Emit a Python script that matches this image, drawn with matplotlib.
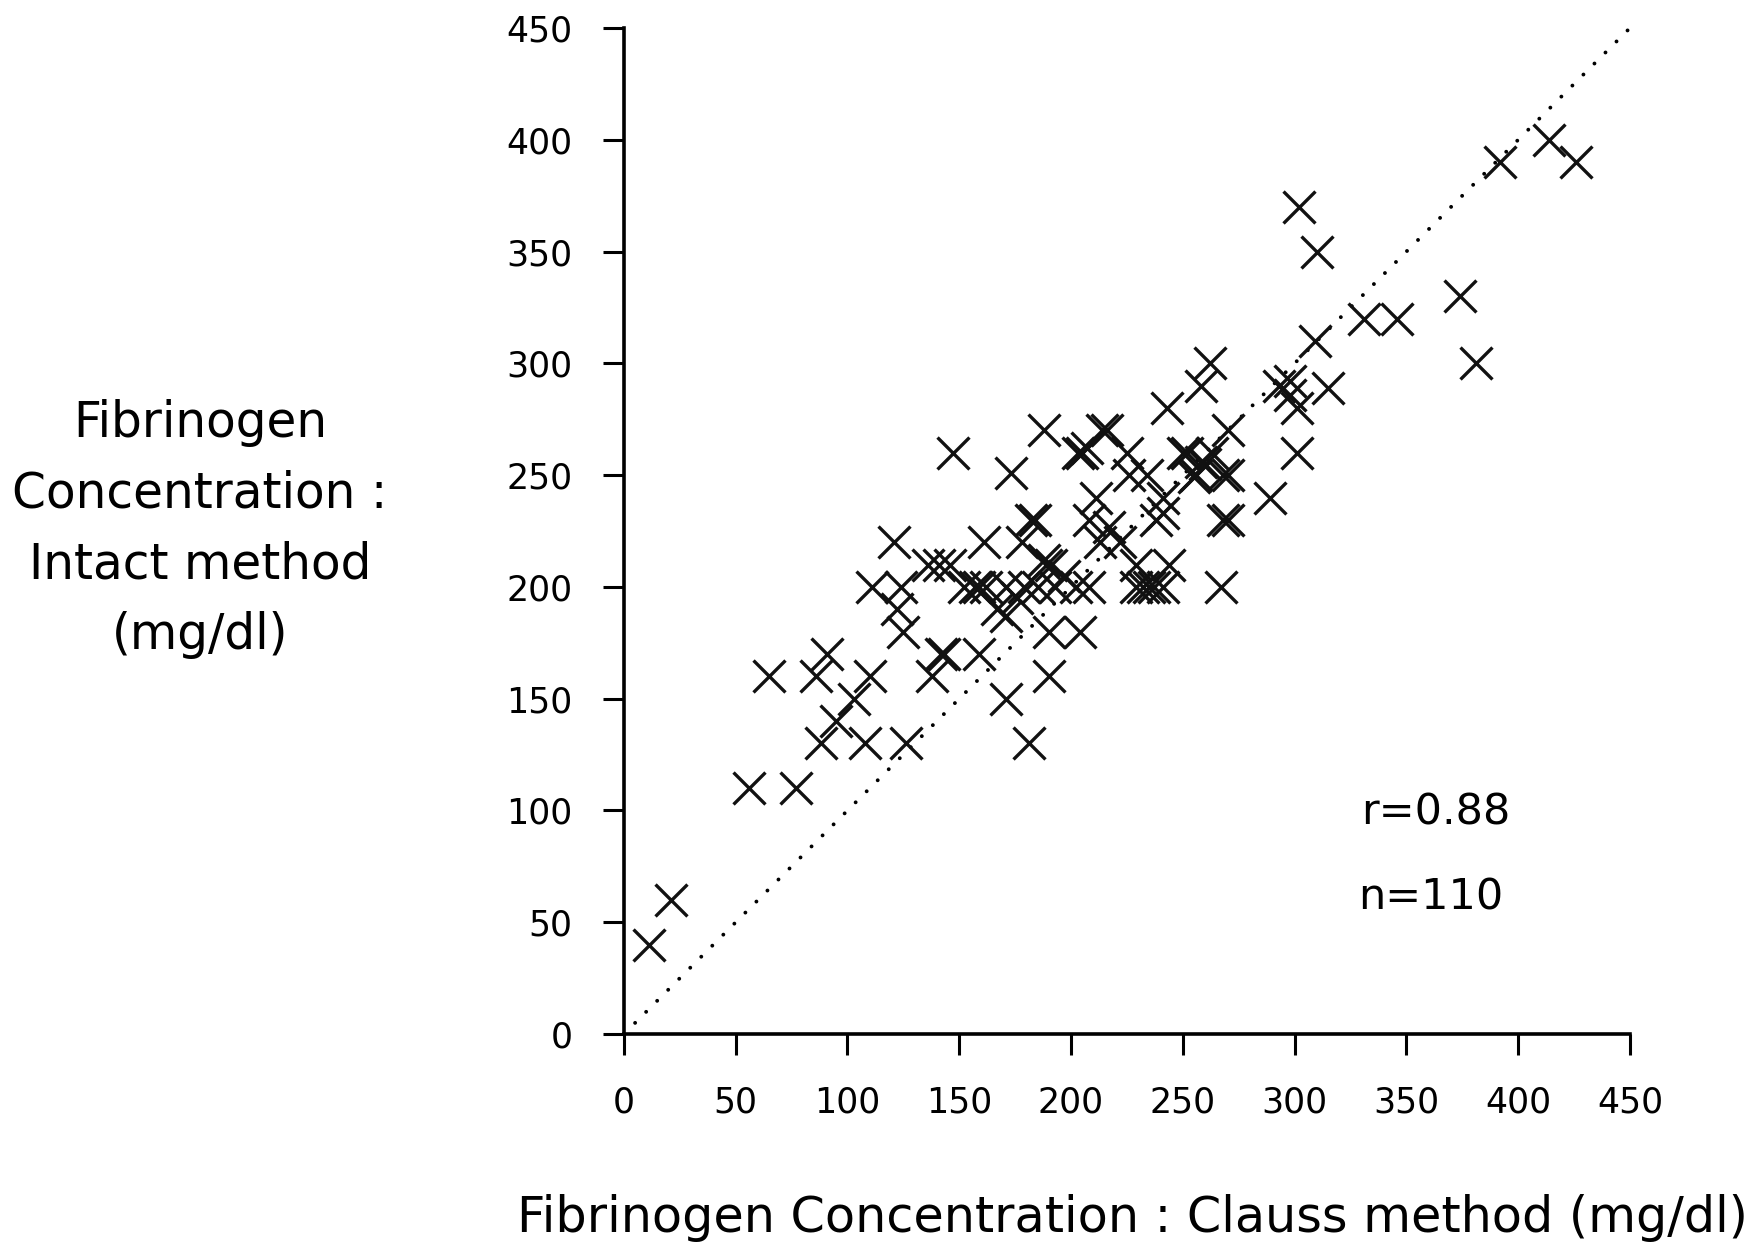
import matplotlib
matplotlib.use("Agg")
import matplotlib.pyplot as plt

# Clauss method (x) vs Intact method (y), mg/dl
clauss = [11, 21, 56, 77, 88, 108, 126, 95, 103, 65,
          86, 110, 138, 91, 142, 143, 159, 171, 181, 190,
          125, 122, 111, 124, 121, 147, 141, 161, 182, 184,
          178, 136, 146, 152, 159, 157, 162, 171, 179, 189,
          191, 188, 167, 171, 176, 190, 205, 203, 207, 214,
          216, 225, 234, 226, 250, 252, 270, 268, 260, 256,
          211, 208, 217, 222, 213, 241, 238, 241, 270, 268,
          229, 244, 243, 301, 301, 289, 270, 258, 263, 255,
          185, 193, 202, 208, 197, 235, 237, 232, 229, 241,
          267, 204, 309, 293, 298, 298, 315, 188, 173, 302,
          310, 414, 426, 392, 374, 381, 331, 346, 258, 262]
intact = [40, 60, 110, 110, 130, 130, 130, 140, 150, 160,
          160, 160, 160, 170, 170, 170, 170, 150, 130, 160,
          180, 190, 200, 200, 220, 260, 210, 220, 230, 230,
          220, 210, 210, 200, 200, 200, 200, 200, 200, 210,
          210, 212, 190, 187, 195, 180, 260, 260, 262, 270,
          270, 260, 250, 250, 260, 260, 250, 250, 255, 250,
          240, 230, 227, 220, 220, 240, 230, 233, 230, 230,
          210, 210, 280, 280, 260, 240, 270, 256, 260, 249,
          200, 200, 200, 200, 205, 200, 200, 200, 200, 200,
          200, 180, 310, 290, 292, 286, 289, 270, 251, 370,
          350, 400, 390, 390, 330, 300, 320, 320, 290, 300]
identity = [5, 450]
ticks = [0, 50, 100, 150, 200, 250, 300, 350, 400, 450]
stats = ["r=0.88", "n=110"]

fig = plt.figure(figsize=(17.6, 12.46), dpi=100)
ax = fig.add_axes([0.3545, 0.1701, 0.5716, 0.8074])

ax.plot(identity, identity, color="black", lw=2.8, linestyle=(0, (0.01, 4)),
        dash_capstyle="round")
ax.scatter(clauss, intact, marker="x", s=23 ** 2, linewidths=2.4, color="#111111", zorder=3)

ax.set_xlim(0, 450); ax.set_ylim(0, 450)
ax.set_xticks(ticks); ax.set_yticks(ticks)
for s in ("top", "right"):
    ax.spines[s].set_visible(False)
for s in ("left", "bottom"):
    ax.spines[s].set_linewidth(2.6)
ax.tick_params(length=15, width=2.2, pad=22, labelsize=25, direction="out")

fig.text(200 / 1760, 1 - 529 / 1246, "Fibrinogen\nConcentration :\nIntact method\n(mg/dl)",
         ha="center", va="center", fontsize=35, linespacing=1.6)
fig.text(1132 / 1760, 1 - 1218 / 1246, "Fibrinogen Concentration : Clauss method (mg/dl)",
         ha="center", va="center", fontsize=35.5)
ax.text(363, 99, stats[0], ha="center", va="center", fontsize=31)
ax.text(361, 61, stats[1], ha="center", va="center", fontsize=31)

fig.savefig("out.png", dpi=100, facecolor="white")
